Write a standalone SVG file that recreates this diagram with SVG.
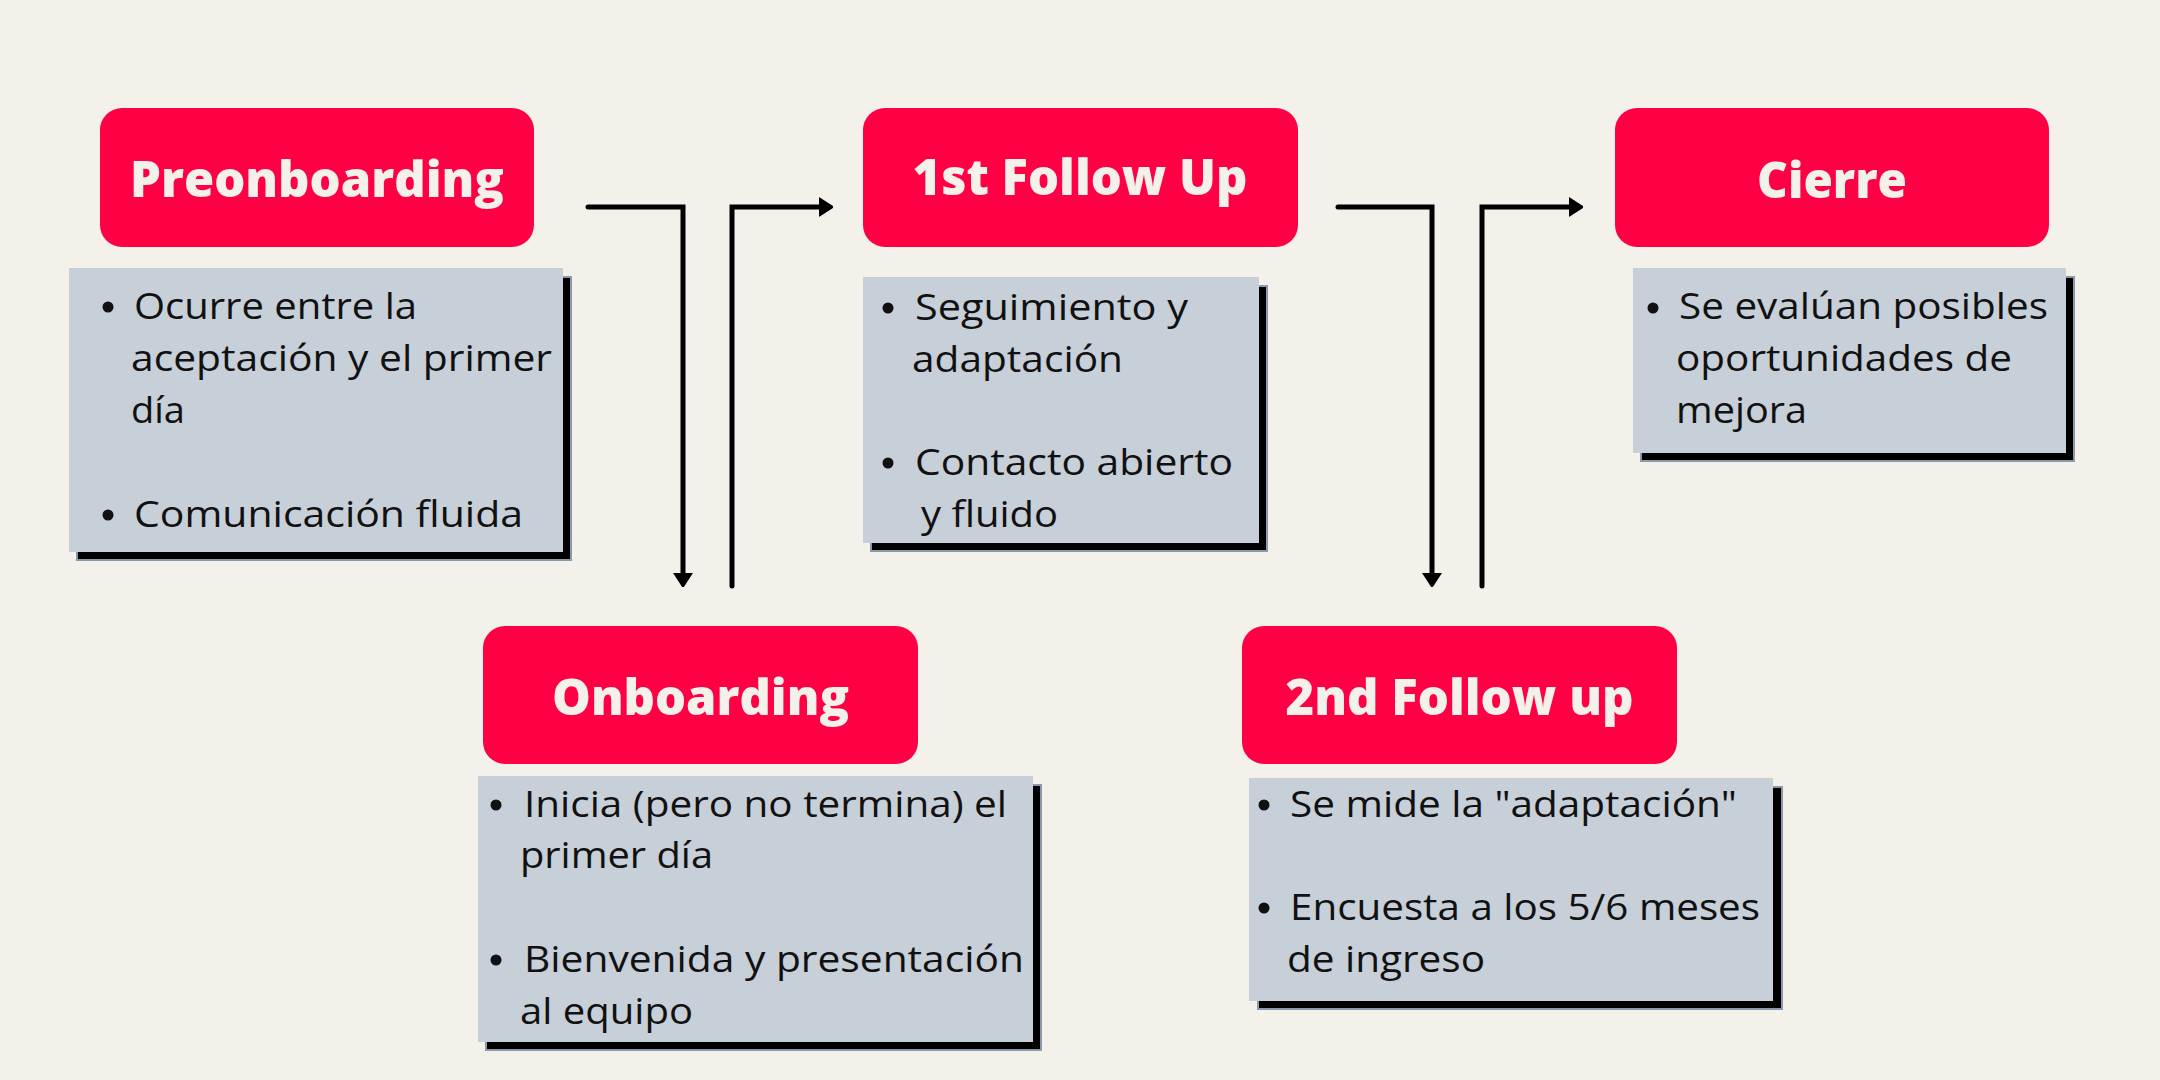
<svg xmlns="http://www.w3.org/2000/svg" width="2160" height="1080" viewBox="0 0 2160 1080">
<defs>
<style>
.bg{fill:#F4F1EA}
.head{fill:#FF0044}
.card{fill:#C7CFD8}
.shadow{fill:#000;stroke:#8A9AAA;stroke-width:2}
.title{font-family:"Open Sans","Noto Sans",sans-serif;font-weight:800;font-size:50px;fill:#F4F1EA;text-anchor:middle}
.body{font-family:"Open Sans","Noto Sans",sans-serif;font-size:37px;fill:#111}
.dot{fill:#111}
.conn{fill:none;stroke:#000;stroke-width:5;stroke-linecap:round;stroke-linejoin:miter}
</style>
<marker id="arr" markerUnits="userSpaceOnUse" viewBox="0 0 14 20" markerWidth="14" markerHeight="20" refX="0" refY="10" orient="auto">
<path d="M0,1 L14,10 L0,19 Z" fill="#000" stroke="#000" stroke-width="1.5" stroke-linejoin="round"/>
</marker>
</defs>
<rect class="bg" x="0" y="0" width="2160" height="1080"/>

<g id="connectors">
<path class="conn" d="M588,207 H683 V573" marker-end="url(#arr)"/>
<path class="conn" d="M732,586 V207 H819" marker-end="url(#arr)"/>
<path class="conn" d="M1338,207 H1432 V573" marker-end="url(#arr)"/>
<path class="conn" d="M1482,586 V207 H1569" marker-end="url(#arr)"/>
</g>

<g id="preonboarding">
<rect class="head" x="100" y="108" width="434" height="139" rx="22"/>
<text class="title" x="317" y="197" textLength="374" lengthAdjust="spacingAndGlyphs">Preonboarding</text>
<rect class="shadow" x="77" y="277" width="494" height="283"/>
<rect class="card" x="69" y="268" width="494" height="284"/>
<circle class="dot" cx="108" cy="307" r="5.5"/>
<text class="body" x="134" y="319" textLength="283" lengthAdjust="spacingAndGlyphs">Ocurre entre la</text>
<text class="body" x="131" y="371" textLength="421" lengthAdjust="spacingAndGlyphs">aceptación y el primer</text>
<text class="body" x="131" y="423" textLength="54" lengthAdjust="spacingAndGlyphs">día</text>
<circle class="dot" cx="108" cy="515" r="5.5"/>
<text class="body" x="134" y="527" textLength="389" lengthAdjust="spacingAndGlyphs">Comunicación fluida</text>
</g>

<g id="onboarding">
<rect class="head" x="483" y="626" width="435" height="138" rx="22"/>
<text class="title" x="700.5" y="715" textLength="297" lengthAdjust="spacingAndGlyphs">Onboarding</text>
<rect class="shadow" x="486" y="785" width="555" height="265"/>
<rect class="card" x="478" y="776" width="555" height="266"/>
<circle class="dot" cx="496" cy="805" r="5.5"/>
<text class="body" x="524" y="817" textLength="483" lengthAdjust="spacingAndGlyphs">Inicia (pero no termina) el</text>
<text class="body" x="520" y="868" textLength="193" lengthAdjust="spacingAndGlyphs">primer día</text>
<circle class="dot" cx="496" cy="960" r="5.5"/>
<text class="body" x="524" y="972" textLength="500" lengthAdjust="spacingAndGlyphs">Bienvenida y presentación</text>
<text class="body" x="520" y="1024" textLength="173" lengthAdjust="spacingAndGlyphs">al equipo</text>
</g>

<g id="first-follow-up">
<rect class="head" x="863" y="108" width="435" height="139" rx="22"/>
<text class="title" x="1080" y="195" textLength="335" lengthAdjust="spacingAndGlyphs">1st Follow Up</text>
<rect class="shadow" x="871" y="286" width="396" height="265"/>
<rect class="card" x="863" y="277" width="396" height="266"/>
<circle class="dot" cx="888" cy="308" r="5.5"/>
<text class="body" x="915" y="320" textLength="273" lengthAdjust="spacingAndGlyphs">Seguimiento y</text>
<text class="body" x="912" y="372" textLength="211" lengthAdjust="spacingAndGlyphs">adaptación</text>
<circle class="dot" cx="888" cy="463" r="5.5"/>
<text class="body" x="915" y="475" textLength="318" lengthAdjust="spacingAndGlyphs">Contacto abierto</text>
<text class="body" x="921" y="527" textLength="137" lengthAdjust="spacingAndGlyphs">y fluido</text>
</g>

<g id="second-follow-up">
<rect class="head" x="1242" y="626" width="435" height="138" rx="22"/>
<text class="title" x="1459.5" y="715" textLength="348" lengthAdjust="spacingAndGlyphs">2nd Follow up</text>
<rect class="shadow" x="1258" y="787" width="524" height="222"/>
<rect class="card" x="1249" y="778" width="524" height="223"/>
<circle class="dot" cx="1264" cy="805" r="5.5"/>
<text class="body" x="1290" y="817" textLength="447" lengthAdjust="spacingAndGlyphs">Se mide la "adaptación"</text>
<circle class="dot" cx="1264" cy="908" r="5.5"/>
<text class="body" x="1290" y="920" textLength="470" lengthAdjust="spacingAndGlyphs">Encuesta a los 5/6 meses</text>
<text class="body" x="1287" y="972" textLength="198" lengthAdjust="spacingAndGlyphs">de ingreso</text>
</g>

<g id="cierre">
<rect class="head" x="1615" y="108" width="434" height="139" rx="22"/>
<text class="title" x="1832" y="198" textLength="150" lengthAdjust="spacingAndGlyphs">Cierre</text>
<rect class="shadow" x="1641" y="277" width="433" height="184"/>
<rect class="card" x="1633" y="268" width="433" height="185"/>
<circle class="dot" cx="1653" cy="308" r="5.5"/>
<text class="body" x="1679" y="319" textLength="369" lengthAdjust="spacingAndGlyphs">Se evalúan posibles</text>
<text class="body" x="1676" y="371" textLength="336" lengthAdjust="spacingAndGlyphs">oportunidades de</text>
<text class="body" x="1676" y="423" textLength="131" lengthAdjust="spacingAndGlyphs">mejora</text>
</g>
</svg>
